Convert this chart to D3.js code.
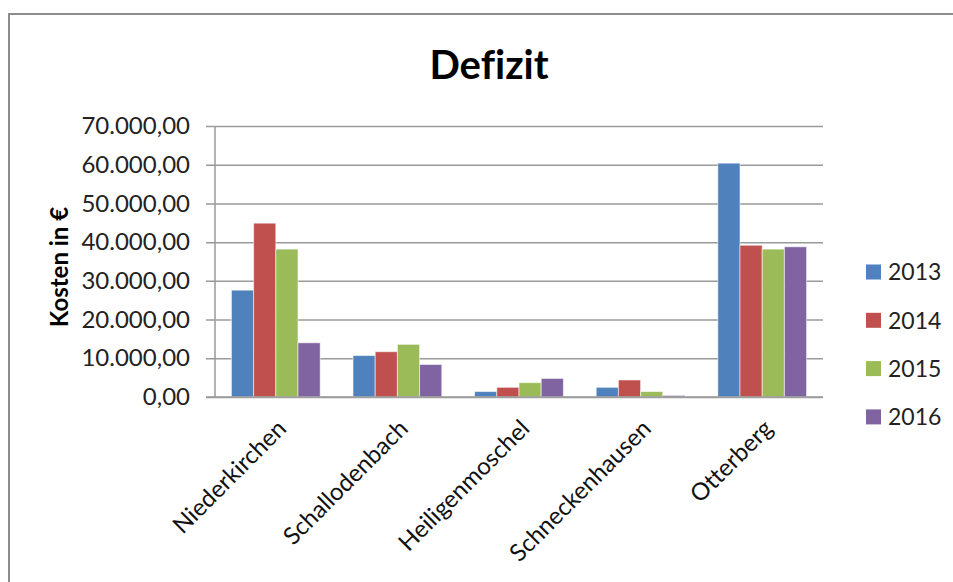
<!DOCTYPE html>
<html>
<head>
<meta charset="utf-8">
<script src="https://cdn.jsdelivr.net/npm/d3@7"></script>
<style>
  html, body { margin: 0; padding: 0; background: #fff; }
  svg { display: block; font-family: Lato, "Open Sans", sans-serif; font-variant-ligatures: none; }
  text { font-variant-ligatures: none; font-feature-settings: "liga" 0, "clig" 0; }
</style>
</head>
<body>
<svg id="chart" width="953" height="582"></svg>
<script>
// Gemeinden und Jahre
const categories = ["Niederkirchen", "Schallodenbach", "Heiligenmoschel", "Schneckenhausen", "Otterberg"];
const years = ["2013", "2014", "2015", "2016"];

// Defizit je Gemeinde und Jahr (in €)
const values2013 = [27600, 10700, 1400, 2500, 60400];
const values2014 = [44900, 11700, 2500, 4400, 39200];
const values2015 = [38200, 13600, 3700, 1400, 38200];
const values2016 = [14000, 8400, 4800, 400, 38800];
const seriesValues = [values2013, values2014, values2015, values2016];

const yTicks = [0, 10000, 20000, 30000, 40000, 50000, 60000, 70000];
const colors = ["#4F81BD", "#C0504D", "#9BBB59", "#8064A2"];

const svg = d3.select("#chart");

// Rahmen des Diagramms
svg.append("rect")
  .attr("x", 9).attr("y", 14)
  .attr("width", 960).attr("height", 600)
  .attr("fill", "none").attr("stroke", "#8c8c8c").attr("stroke-width", 2);

// Titel
svg.append("text")
  .attr("x", 489).attr("y", 79)
  .attr("text-anchor", "middle")
  .attr("font-size", 40).attr("font-weight", "bold")
  .attr("fill", "#000")
  .text("Defizit");

const plot = { left: 215, right: 823, top: 126, bottom: 397 };

const y = d3.scaleLinear().domain([0, 70000]).range([plot.bottom, plot.top]);
const x0 = d3.scaleBand().domain(categories).range([plot.left, plot.right])
  .paddingInner(0.27).paddingOuter(0.135);
const x1 = d3.scaleBand().domain(years).range([0, x0.bandwidth()]);

const fmt = d3.formatLocale({ decimal: ",", thousands: ".", grouping: [3], currency: ["", " €"] }).format(",.2f");

// Gitternetzlinien mit kurzen Teilstrichen links der Achse
const yAxis = d3.axisLeft(y).tickValues(yTicks).tickFormat(fmt)
  .tickSize(-(plot.right - plot.left + 9)).tickPadding(16).tickSizeOuter(0);
const gy = svg.append("g").attr("transform", `translate(${plot.left - 9},0)`).call(yAxis);
gy.select(".domain").remove();
gy.selectAll(".tick line").attr("stroke", "#9a9a9a").attr("stroke-width", 1.5)
  .attr("x1", 0).attr("x2", plot.right - plot.left + 9);
gy.selectAll(".tick text").attr("font-size", 24).attr("fill", "#222")
  .attr("font-family", "Lato, 'Open Sans', sans-serif").attr("x", -16);

// Senkrechte Achse
svg.append("line")
  .attr("x1", plot.left).attr("x2", plot.left)
  .attr("y1", plot.top).attr("y2", plot.bottom)
  .attr("stroke", "#9a9a9a").attr("stroke-width", 1.5);

// Balken
const groups = svg.append("g").selectAll("g")
  .data(categories)
  .join("g")
  .attr("transform", d => `translate(${x0(d)},0)`);

groups.selectAll("rect")
  .data((d, i) => years.map((yr, j) => ({ yr, j, v: seriesValues[j][i] })))
  .join("rect")
  .attr("x", d => x1(d.yr))
  .attr("y", d => y(d.v))
  .attr("width", x1.bandwidth())
  .attr("height", d => y(0) - y(d.v))
  .attr("fill", d => colors[d.j])
  .attr("stroke", "rgba(255,255,255,0.55)")
  .attr("stroke-width", 1);

// Kategorienachse mit gedrehten Beschriftungen
const xAxis = d3.axisBottom(x0).tickSize(0).tickPadding(0);
const gx = svg.append("g").attr("transform", `translate(0,${plot.bottom})`).call(xAxis);
gx.select(".domain").remove();
gx.selectAll(".tick text")
  .attr("font-size", 24).attr("fill", "#111")
  .attr("font-family", "Lato, 'Open Sans', sans-serif")
  .attr("text-anchor", "end")
  .attr("dy", null)
  .attr("transform", "translate(12,33) rotate(-45)");

svg.append("line")
  .attr("x1", plot.left - 9).attr("x2", plot.right)
  .attr("y1", plot.bottom).attr("y2", plot.bottom)
  .attr("stroke", "#9a9a9a").attr("stroke-width", 1.5);

// Achsentitel
svg.append("text")
  .attr("transform", "translate(68,267) rotate(-90)")
  .attr("text-anchor", "middle")
  .attr("font-size", 24).attr("font-weight", "bold")
  .attr("fill", "#000")
  .text("Kosten in €");

// Legende
const legend = svg.append("g").selectAll("g")
  .data(years)
  .join("g")
  .attr("transform", (d, i) => `translate(866,${272 + i * 48.3})`);
legend.append("rect")
  .attr("x", 0).attr("y", -7.5).attr("width", 15).attr("height", 15)
  .attr("fill", (d, i) => colors[i]);
legend.append("text")
  .attr("x", 22).attr("y", 0).attr("dy", "0.36em")
  .attr("font-size", 23).attr("fill", "#222")
  .text(d => d);
</script>
</body>
</html>
